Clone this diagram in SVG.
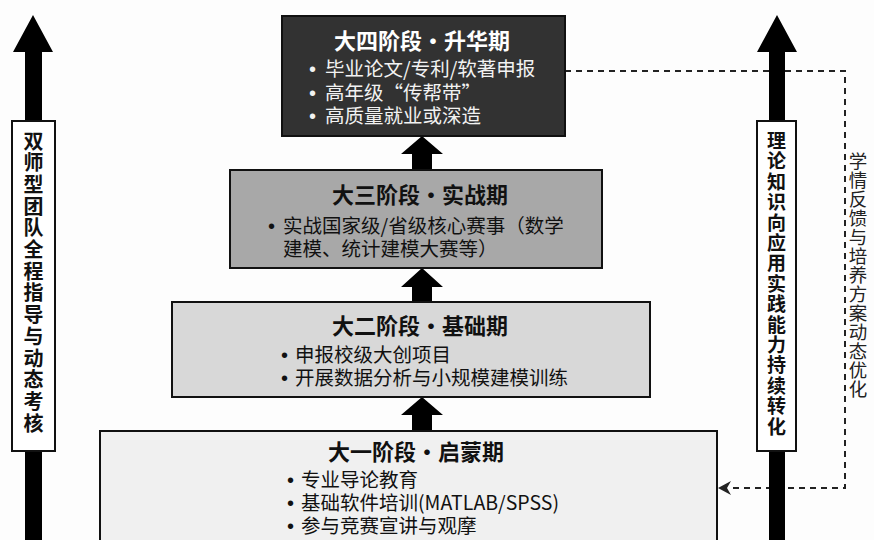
<svg xmlns="http://www.w3.org/2000/svg" width="874" height="540" viewBox="0 0 874 540">
<defs>
<style>
.box{stroke:#111;stroke-width:2}
.ttl{font-family:"Noto Sans CJK SC","Liberation Sans",sans-serif;font-weight:700;font-size:22px;text-anchor:middle}
.bul{font-family:"Noto Sans CJK SC","Liberation Sans",sans-serif;font-size:19.5px}
.dot{font-family:"Liberation Sans","Noto Sans CJK SC",sans-serif;font-size:20px}
.vl{font-family:"Noto Sans CJK SC","Liberation Sans",sans-serif;font-weight:700;text-anchor:middle;fill:#111}
.vr{font-family:"Noto Sans CJK SC","Liberation Sans",sans-serif;font-size:18.5px;text-anchor:middle;fill:#222}
.blk{fill:#000}
.dash{fill:none;stroke:#222;stroke-width:2;stroke-dasharray:6 5}
</style>
</defs>
<rect width="874" height="540" fill="#fdfdfd"/>

<g id="connectors">
  <path class="dash" d="M565,71 H845 V488 H728"/>
  <polygon points="718,488 731,481 727,488 731,495" fill="#222"/>
  <g id="arrow-3-4" class="blk"><polygon points="422,136 443,154 432,154 432,170 412,170 412,154 401,154"/></g>
  <g id="arrow-2-3" class="blk"><polygon points="422,268 443,287 432,287 432,302 412,302 412,287 401,287"/></g>
  <g id="arrow-1-2" class="blk"><polygon points="422,397 443,415 432,415 432,431 412,431 412,415 401,415"/></g>
</g>

<g id="left-axis">
  <polygon class="blk" points="33,15 53,52 42,52 42,540 25,540 25,52 13,52"/>
  <rect x="12" y="121" width="43" height="330" fill="#fff" stroke="#111" stroke-width="2"/>
  <text class="vl" font-size="20">
    <tspan x="33.5" y="148.5">双</tspan><tspan x="33.5" y="170.2">师</tspan><tspan x="33.5" y="191.9">型</tspan><tspan x="33.5" y="213.6">团</tspan><tspan x="33.5" y="235.3">队</tspan><tspan x="33.5" y="257">全</tspan><tspan x="33.5" y="278.7">程</tspan><tspan x="33.5" y="300.4">指</tspan><tspan x="33.5" y="322.1">导</tspan><tspan x="33.5" y="343.8">与</tspan><tspan x="33.5" y="365.5">动</tspan><tspan x="33.5" y="387.2">态</tspan><tspan x="33.5" y="408.9">考</tspan><tspan x="33.5" y="430.6">核</tspan>
  </text>
</g>

<g id="right-axis">
  <polygon class="blk" points="777,15 797,52 785,52 785,540 769,540 769,52 757,52"/>
  <rect x="757" y="121" width="39" height="330" fill="#fff" stroke="#111" stroke-width="2"/>
  <text class="vl" font-size="19">
    <tspan x="776.5" y="148">理</tspan><tspan x="776.5" y="168.4">论</tspan><tspan x="776.5" y="188.8">知</tspan><tspan x="776.5" y="209.2">识</tspan><tspan x="776.5" y="229.6">向</tspan><tspan x="776.5" y="250">应</tspan><tspan x="776.5" y="270.4">用</tspan><tspan x="776.5" y="290.8">实</tspan><tspan x="776.5" y="311.2">践</tspan><tspan x="776.5" y="331.6">能</tspan><tspan x="776.5" y="352">力</tspan><tspan x="776.5" y="372.4">持</tspan><tspan x="776.5" y="392.8">续</tspan><tspan x="776.5" y="413.2">转</tspan><tspan x="776.5" y="433.6">化</tspan>
  </text>
</g>

<g id="feedback-label">
  <text class="vr">
    <tspan x="858" y="168">学</tspan><tspan x="858" y="187">情</tspan><tspan x="858" y="206">反</tspan><tspan x="858" y="225">馈</tspan><tspan x="858" y="244">与</tspan><tspan x="858" y="263">培</tspan><tspan x="858" y="282">养</tspan><tspan x="858" y="301">方</tspan><tspan x="858" y="320">案</tspan><tspan x="858" y="339">动</tspan><tspan x="858" y="358">态</tspan><tspan x="858" y="377">优</tspan><tspan x="858" y="396">化</tspan>
  </text>
</g>

<g id="stage4">
  <rect class="box" x="282" y="16" width="283" height="120" fill="#323232"/>
  <text class="ttl" x="422" y="49" fill="#fff">大四阶段·升华期</text>
  <text class="bul" fill="#f2f2f2"><tspan class="dot" x="309" y="76">•</tspan><tspan x="325">毕业论文/专利/软著申报</tspan></text>
  <text class="bul" fill="#f2f2f2"><tspan class="dot" x="309" y="99.5">•</tspan><tspan x="325">高年级“传帮带”</tspan></text>
  <text class="bul" fill="#f2f2f2"><tspan class="dot" x="309" y="123">•</tspan><tspan x="325">高质量就业或深造</tspan></text>
</g>

<g id="stage3">
  <rect class="box" x="230" y="170" width="372" height="98" fill="#a8a8a8"/>
  <text class="ttl" x="420" y="203" fill="#111">大三阶段·实战期</text>
  <text class="bul" fill="#111"><tspan class="dot" x="268" y="233">•</tspan><tspan x="283">实战国家级/省级核心赛事（数学</tspan><tspan x="283" y="256">建模、统计建模大赛等）</tspan></text>
</g>

<g id="stage2">
  <rect class="box" x="172" y="302" width="478" height="95" fill="#d8d8d8"/>
  <text class="ttl" x="420" y="334" fill="#111">大二阶段·基础期</text>
  <text class="bul" fill="#111"><tspan class="dot" x="281" y="362">•</tspan><tspan x="295">申报校级大创项目</tspan></text>
  <text class="bul" fill="#111"><tspan class="dot" x="281" y="385">•</tspan><tspan x="295">开展数据分析与小规模建模训练</tspan></text>
</g>

<g id="stage1">
  <rect class="box" x="100" y="431" width="617" height="120" fill="#f0f0f0"/>
  <text class="ttl" x="416" y="460" fill="#111">大一阶段·启蒙期</text>
  <text class="bul" fill="#111"><tspan class="dot" x="287" y="487">•</tspan><tspan x="301">专业导论教育</tspan></text>
  <text class="bul" fill="#111"><tspan class="dot" x="287" y="510">•</tspan><tspan x="301">基础软件培训(MATLAB/SPSS)</tspan></text>
  <text class="bul" fill="#111"><tspan class="dot" x="287" y="533">•</tspan><tspan x="301">参与竞赛宣讲与观摩</tspan></text>
</g>
</svg>
